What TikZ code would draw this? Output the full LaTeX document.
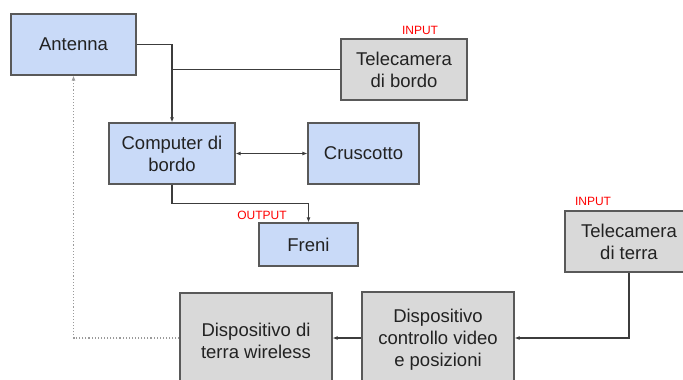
\documentclass[tikz,border=0pt]{standalone}
\usepackage{fontspec}
\setmainfont{Liberation Sans}
\usetikzlibrary{arrows.meta}
\definecolor{boxblue}{HTML}{C9DAF8}
\definecolor{boxgrey}{HTML}{D9D9D9}
\definecolor{edge}{HTML}{595959}
\definecolor{wire}{HTML}{3C3C3C}
\definecolor{dotwire}{HTML}{9A9A9A}
\definecolor{txt}{HTML}{222222}
\begin{document}
\begin{tikzpicture}[x=1pt,y=-1pt,
  block/.style={draw=edge,line width=1.2pt,align=center,text=txt,
    font=\fontsize{18.5}{22}\selectfont,inner sep=0pt},
  blue/.style={block,fill=boxblue},
  grey/.style={block,fill=boxgrey},
  wiring/.style={draw=wire,line width=1.1pt},
  arr/.style={wiring,-{Latex[length=5pt,width=4pt]}},
  biarr/.style={wiring,{Latex[length=5pt,width=4pt]}-{Latex[length=5pt,width=4pt]}},
  radio/.style={draw=dotwire,line width=1.1pt,dotted,-{Latex[length=5pt,width=4pt]}},
  tag/.style={text=red,font=\fontsize{12}{14}\selectfont,inner sep=0pt}]
\clip (0,0) rectangle (683,380);
\fill[white] (0,0) rectangle (683,380);

% on-board blocks
\node[blue,minimum width=125pt,minimum height=61pt] (ant) at (73.5,44.5) {Antenna};
\node[grey,minimum width=126pt,minimum height=61pt] (tcb) at (404,69.5) {Telecamera\\di bordo};
\node[blue,minimum width=126pt,minimum height=61pt] (comp) at (172,153.5) {Computer di\\bordo};
\node[blue,minimum width=111pt,minimum height=61pt] (crus) at (363.5,153.5) {Cruscotto};
\node[blue,minimum width=99pt,minimum height=43pt] (freni) at (308.5,244.5) {Freni};

% ground blocks
\node[grey,minimum width=128pt,minimum height=61pt] (tct) at (629,241.5) {Telecamera\\di terra};
\node[grey,minimum width=152pt,minimum height=96pt] (dcv) at (438,340) {Dispositivo\\controllo video\\e posizioni};
\node[grey,minimum width=152pt,minimum height=96pt] (dterra) at (256,341) {Dispositivo di\\terra wireless};

% labels
\node[tag] (in1) at (420,30) {INPUT};
\node[tag] (in2) at (593,201) {INPUT};
\node[tag] (out) at (262,215) {OUTPUT};

% connectors
\draw[arr] (ant.east) -| (comp.north);
\draw[wiring] (tcb.west) -- (comp.north |- tcb.west);
\draw[biarr] (comp.east) -- (crus.west);
\draw[arr] (comp.south) -- ++(0,19) -| (freni.north);
\coordinate (gin) at (dcv.east |- 0,338);
\draw[arr] (tct.south) |- (gin);
\draw[arr] (dcv.west |- 0,338) -- (dterra.east |- 0,338);
\draw[radio] (dterra.west |- 0,338) -| (ant.south);
\end{tikzpicture}
\end{document}
